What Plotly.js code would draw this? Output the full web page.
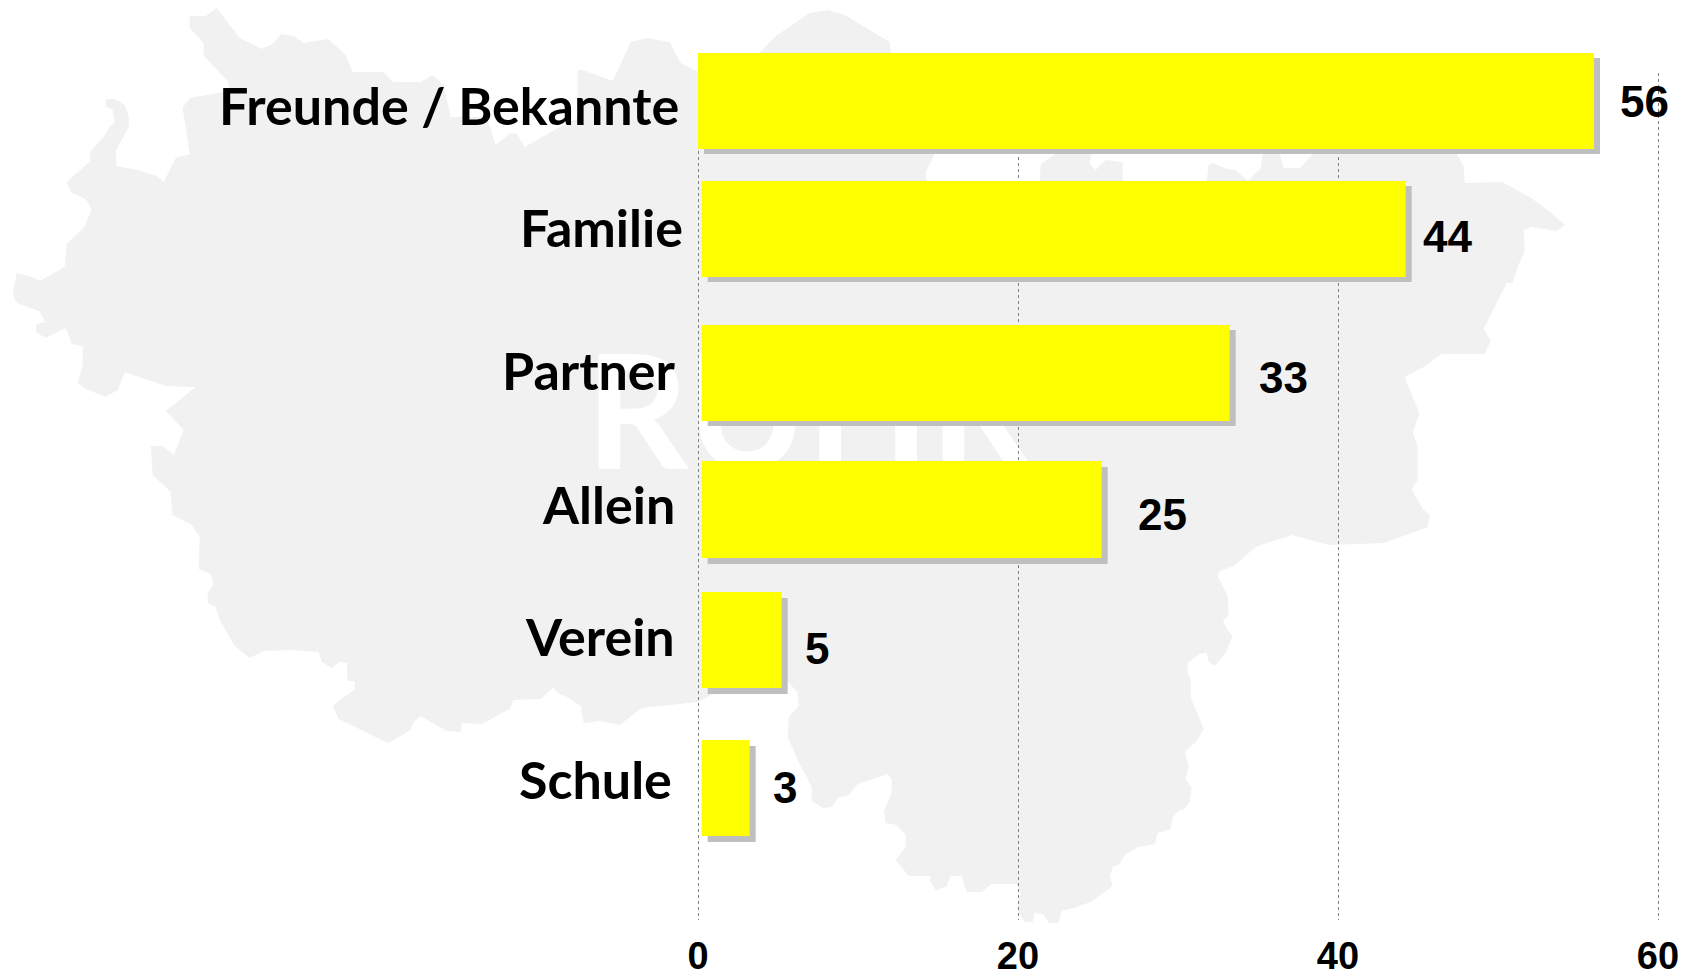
<!DOCTYPE html>
<html>
<head>
<meta charset="utf-8">
<script src="https://cdn.plot.ly/plotly-3.0.1.min.js"></script>
<style>html,body{margin:0;padding:0;background:#fff}#chart{width:1692px;height:978px}</style>
</head>
<body>
<div id="chart"></div>
<script>
// ---- data ----
const categories = ["Freunde / Bekannte", "Familie", "Partner", "Allein", "Verein", "Schule"];
const values = [56, 44, 33, 25, 5, 3];
const xTicks = [0, 20, 40, 60];
const backdropWord = "RUHR";

// ---- layout of the rows (in page pixels along the vertical axis) ----
const rowCentre = [101, 229, 373, 509.5, 640, 788];
const rowHeight = [96, 96, 96, 97, 96, 96];
const barStart = [0, 0.23, 0.23, 0.23, 0.23, 0.23];
const shadowDrop = [5, 5, 5, 6, 6, 6];
const valueShiftX = [50.4, 45.2, 57.4, 64.4, 39.4, 39.4];
const valueShiftY = [0, -7, -4, -5, -8, 1];
const labelRight = [681, 685, 678, 677, 677, 674];
const labelMiddle = [105, 227, 370, 504, 636, 779];

// ---- plot frame ----
const unitPx = 16;
const axisRange = [-1, 61];
const zeroPx = 698.3;
const plotLeft = zeroPx + axisRange[0] * unitPx, plotRight = zeroPx + axisRange[1] * unitPx;
const plotTop = 50, gridTop = 73, plotBottom = 920;
const toPaperX = p => (p - plotLeft) / (plotRight - plotLeft);
const toPaperY = p => (plotBottom - p) / (plotBottom - plotTop);

// ---- backdrop map outline (page pixels) ----
const mapOutline = [
 [190,16],[206,16],[217,8],[240,38],[262,49],[273,44],[281,34],[294,36],[304,43],[329,39],[346,55],[353,72],[384,72],[393,82],[421,82],[433,75],[444,85],[451,117],[487,117],[496,145],[511,133],[517,134],[525,147],[562,126],[578,118],[578,70],[583,70],[613,81],[631,42],[647,38],[670,42],[681,63],[699,72],
 [760,53],[776,36],[810,13],[828,10],[845,15],[890,42],[891,53],[900,100],[935,154],[926,172],[927,181],[980,200],[1040,181],[1041,164],[1056,154],[1070,145],[1092,154],[1090,164],[1096,170],[1106,160],[1123,162],[1123,181],[1165,200],[1207,181],[1209,165],[1213,163],[1227,169],[1236,170],[1248,181],[1261,168],[1263,154],[1268,145],[1275,145],[1280,154],[1284,168],[1300,168],[1313,154],[1330,140],[1440,140],[1457,154],[1464,166],[1465,183],
 [1502,182],[1530,197],[1552,213],[1565,225],[1557,231],[1532,227],[1524,230],[1525,250],[1518,267],[1513,283],[1507,283],[1484,329],[1491,341],[1485,354],[1442,354],[1424,367],[1405,377],[1420,414],[1413,432],[1418,446],[1418,480],[1412,489],[1423,509],[1430,515],[1428,527],[1384,543],[1329,545],[1292,535],[1256,547],[1234,566],[1220,571],[1218,576],[1228,596],[1229,615],[1223,621],[1228,630],[1233,636],[1226,653],[1215,666],[1209,662],[1207,653],[1200,654],[1188,663],[1188,673],[1191,680],[1191,697],[1204,729],[1197,741],[1185,752],[1189,766],[1186,779],[1192,788],[1190,802],[1184,810],[1181,809],[1173,817],[1171,829],[1158,833],[1155,844],[1139,847],[1125,855],[1120,864],[1113,867],[1110,877],[1113,886],[1091,902],[1074,908],[1062,911],[1059,923],[1049,923],[1043,914],[1035,913],[1033,922],[1025,922],[1019,913],[1018,907],[1021,893],[1017,884],[992,884],[982,892],[967,892],[962,876],[951,876],[947,886],[936,891],[930,880],[931,876],[909,876],[896,860],[906,847],[906,835],[897,825],[886,823],[884,812],[892,793],[892,779],[888,774],[858,784],[848,796],[839,797],[832,807],[823,808],[812,801],[812,787],[798,760],[788,737],[789,717],[799,706],[798,693],[787,680],[760,680],
 [709,696],[698,702],[642,708],[620,725],[600,721],[584,723],[581,706],[567,697],[560,694],[553,688],[541,699],[514,700],[510,709],[482,724],[462,723],[461,732],[447,731],[421,716],[414,722],[410,731],[388,743],[339,719],[333,706],[341,699],[355,690],[355,681],[348,681],[347,663],[340,662],[332,668],[322,662],[319,652],[291,650],[264,651],[250,658],[235,646],[220,620],[216,607],[208,603],[208,593],[214,584],[211,574],[199,569],[200,537],[192,525],[173,515],[171,492],[153,475],[151,446],[163,446],[174,455],[184,430],[166,411],[196,387],[167,386],[125,372],[118,390],[106,397],[84,388],[78,383],[83,365],[83,346],[72,344],[66,328],[46,338],[36,332],[37,324],[46,322],[39,311],[17,303],[13,294],[17,273],[33,277],[40,281],[65,267],[67,244],[85,227],[92,209],[86,199],[71,192],[67,182],[90,162],[91,151],[104,137],[110,127],[115,122],[113,110],[106,106],[106,99],[115,99],[125,105],[129,116],[129,127],[116,151],[117,166],[138,170],[157,176],[164,182],[176,158],[190,154],[183,108],[190,98],[229,91],[229,82],[204,56],[204,43],[190,28]
];
const mapPath = "M " + mapOutline.map(p => toPaperX(p[0]).toFixed(5) + " " + toPaperY(p[1]).toFixed(5)).join(" L ") + " Z";

const numberFont = "Liberation Sans, Arial, sans-serif";
const labelFont = "Lato, Calibri, sans-serif";

// the first subplot only carries the value axis and its grid; the bars sit in a second one above it
const axisCarrier = { type: "scatter", mode: "lines", x: xTicks, y: xTicks.map(() => null), xaxis: "x", yaxis: "y",
  hoverinfo: "skip", showlegend: false };
const shadowTrace = {
  type: "bar", orientation: "h", cliponaxis: false, hoverinfo: "skip", showlegend: false,
  xaxis: "x2", yaxis: "y2",
  x: values,
  base: barStart.map(b => b + 6 / unitPx),
  y: rowCentre.map((c, i) => c + shadowDrop[i]),
  width: rowHeight,
  marker: { color: "#BFBFBF", line: { width: 0 } }
};
const barTrace = {
  type: "bar", orientation: "h", cliponaxis: false, showlegend: false,
  xaxis: "x2", yaxis: "y2",
  x: values,
  base: barStart,
  y: rowCentre,
  width: rowHeight,
  text: categories, hoverinfo: "text+x", textposition: "none",
  marker: { color: "#FFFF00", line: { width: 0 } }
};

const categoryLabels = categories.map((name, i) => ({
  text: "<b>" + name + "</b>", xref: "x2", yref: "y2", x: 0, y: labelMiddle[i],
  xanchor: "right", yanchor: "middle", xshift: labelRight[i] - zeroPx, showarrow: false,
  font: { family: labelFont, size: 52, color: "#000" }
}));
const valueLabels = values.map((v, i) => ({
  text: "<b>" + v + "</b>", xref: "x2", yref: "y2", x: v, y: rowCentre[i],
  xanchor: "center", yanchor: "middle", xshift: valueShiftX[i], yshift: valueShiftY[i], showarrow: false,
  font: { family: numberFont, size: 44, color: "#000" }
}));

const layout = {
  width: 1692, height: 978,
  margin: { l: plotLeft, r: 1692 - plotRight, t: plotTop, b: 978 - plotBottom, pad: 0 },
  paper_bgcolor: "#FFFFFF", plot_bgcolor: "rgba(0,0,0,0)",
  barmode: "overlay", showlegend: false,
  xaxis: {
    range: axisRange, anchor: "y", tickmode: "array", tickvals: xTicks, ticktext: xTicks.map(t => "<b>" + t + "</b>"),
    showgrid: true, griddash: "dot", gridcolor: "#808080", gridwidth: 1,
    zeroline: false, showline: false, ticks: "", ticklabelstandoff: 10,
    tickfont: { family: numberFont, size: 38, color: "#000" }, automargin: false, fixedrange: true
  },
  yaxis: {
    range: [plotBottom, gridTop], domain: [0, toPaperY(gridTop)], anchor: "x",
    showgrid: false, zeroline: false, showline: false,
    showticklabels: false, ticks: "", automargin: false, fixedrange: true
  },
  xaxis2: {
    range: axisRange, anchor: "y2", showgrid: false, zeroline: false, showline: false,
    showticklabels: false, ticks: "", automargin: false, fixedrange: true
  },
  yaxis2: {
    range: [plotBottom, plotTop], domain: [0, 1], anchor: "x2",
    showgrid: false, zeroline: false, showline: false,
    showticklabels: false, ticks: "", automargin: false, fixedrange: true
  },
  shapes: [
    { type: "path", xref: "paper", yref: "paper", layer: "below", path: mapPath,
      fillcolor: "#F1F1F1", line: { width: 0 } },
    { type: "rect", xref: "paper", yref: "paper", layer: "below",
      x0: toPaperX(595), x1: toPaperX(1024), y0: toPaperY(464), y1: toPaperY(346),
      fillcolor: "rgba(0,0,0,0)", line: { width: 0 },
      label: { text: "<b>" + backdropWord + "</b>", textposition: "middle center", padding: 0,
               font: { family: labelFont, size: 160, color: "#FFFFFF" } } }
  ],
  annotations: categoryLabels.concat(valueLabels)
};

Plotly.newPlot("chart", [axisCarrier, shadowTrace, barTrace], layout, { displayModeBar: false, responsive: false });
</script>
</body>
</html>
